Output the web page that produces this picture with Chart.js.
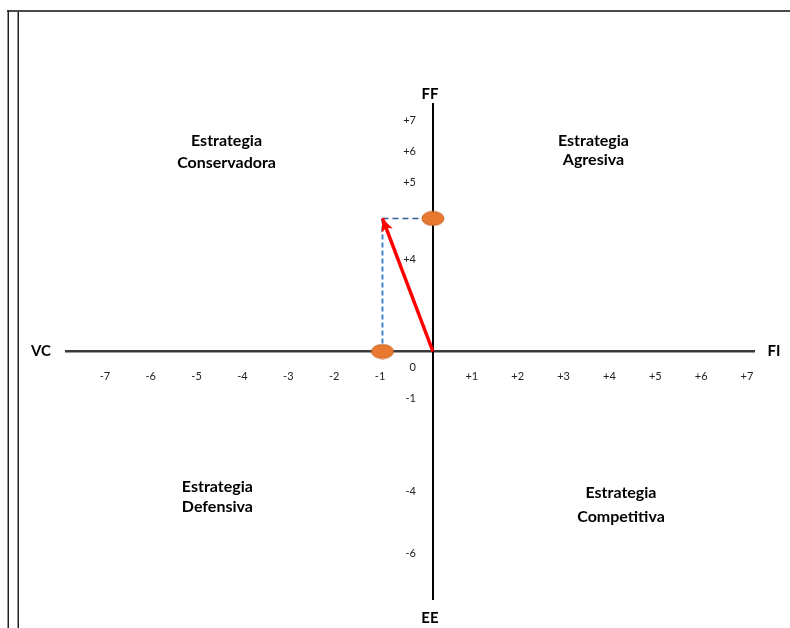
<!DOCTYPE html>
<html>
<head>
<meta charset="utf-8">
<script src="https://cdn.jsdelivr.net/npm/chart.js@4/dist/chart.umd.min.js"></script>
<style>
  html, body { margin: 0; padding: 0; background: #ffffff; }
  #wrap { width: 790px; height: 628px; position: relative; }
</style>
</head>
<body>
<div id="wrap"><canvas id="space" width="790" height="628"></canvas></div>
<script>
// Tick values shown on each axis
const xTickValues = [-7, -6, -5, -4, -3, -2, -1, 1, 2, 3, 4, 5, 6, 7];
const yTickValuesUpper = [7, 6, 5];
const yTickValuesMid = [4];
const yTickValuesLower = [0, -1, -4, -6];

// Axis end names
const axisNames = { top: 'FF', bottom: 'EE', left: 'VC', right: 'FI' };

// Quadrant strategy names
const quadrantConservadora = ['Estrategia', 'Conservadora'];
const quadrantAgresiva = ['Estrategia', 'Agresiva'];
const quadrantDefensiva = ['Estrategia', 'Defensiva'];
const quadrantCompetitiva = ['Estrategia', 'Competitiva'];

// Resulting direction vector (x: VC–FI, y: EE–FF)
const vectorX = -1.1;
const vectorY = 4.3;

const FONT = 'Lato, "Open Sans", sans-serif';
const fmtTick = v => (v > 0 ? '+' + v : String(v));

// Flat orange ellipse used as the point marker
function makeEllipse(w, h) {
  const c = document.createElement('canvas');
  c.width = w + 2; c.height = h + 2;
  const g = c.getContext('2d');
  g.beginPath();
  g.ellipse(c.width / 2, c.height / 2, w / 2, h / 2, 0, 0, Math.PI * 2);
  g.fillStyle = '#E8792F';
  g.fill();
  g.lineWidth = 1;
  g.strokeStyle = '#C4621F';
  g.stroke();
  return c;
}
const ellipseMarker = makeEllipse(22, 14);

// Outer page frame
const framePlugin = {
  id: 'frame',
  beforeDraw(chart) {
    const ctx = chart.ctx;
    ctx.save();
    ctx.strokeStyle = '#4a4a4a';
    ctx.lineWidth = 2;
    ctx.beginPath(); ctx.moveTo(7, 11); ctx.lineTo(790, 11); ctx.stroke();
    ctx.strokeStyle = '#222';
    ctx.lineWidth = 1.5;
    ctx.beginPath(); ctx.moveTo(8.25, 10); ctx.lineTo(8.25, 628); ctx.stroke();
    ctx.beginPath(); ctx.moveTo(18.25, 12); ctx.lineTo(18.25, 628); ctx.stroke();
    ctx.restore();
  }
};

// Arrow head at the end of the vector
const arrowPlugin = {
  id: 'arrowHead',
  afterDatasetsDraw(chart) {
    const xs = chart.scales.x, ys = chart.scales.y, ctx = chart.ctx;
    const x0 = xs.getPixelForValue(0), y0 = ys.getPixelForValue(0);
    const x1 = xs.getPixelForValue(vectorX), y1 = ys.getPixelForValue(vectorY);
    const a = Math.atan2(y1 - y0, x1 - x0);
    const len = 13, half = 6;
    ctx.save();
    ctx.translate(x1, y1);
    ctx.rotate(a);
    ctx.beginPath();
    ctx.moveTo(0, 0);
    ctx.lineTo(-len, -half);
    ctx.lineTo(-len + 3, 0);
    ctx.lineTo(-len, half);
    ctx.closePath();
    ctx.fillStyle = '#FF0000';
    ctx.fill();
    ctx.restore();
  }
};

// Axis names and quadrant captions
const textPlugin = {
  id: 'captions',
  afterDraw(chart) {
    const { ctx, chartArea } = chart;
    const xs = chart.scales.x, ys = chart.scales.y;
    const cx = xs.getPixelForValue(0), cy = ys.getPixelForValue(0);
    ctx.save();
    ctx.fillStyle = '#000';
    ctx.textAlign = 'center';
    ctx.textBaseline = 'middle';
    ctx.font = 'bold 15px ' + FONT;
    ctx.fillText(axisNames.top, cx - 3, chartArea.top - 10);
    ctx.fillText(axisNames.bottom, cx - 3, chartArea.bottom + 19);
    ctx.fillText(axisNames.left, chartArea.left - 25, cy);
    ctx.fillText(axisNames.right, chartArea.right + 20, cy);

    const blocks = [
      { lines: quadrantConservadora, x: -4.5, y: 6.45, gap: 22 },
      { lines: quadrantAgresiva, x: 3.5, y: 6.5, gap: 19 },
      { lines: quadrantDefensiva, x: -4.7, y: -4.7, gap: 20 },
      { lines: quadrantCompetitiva, x: 4.1, y: -4.96, gap: 24 }
    ];
    ctx.font = 'bold 16px ' + FONT;
    blocks.forEach(b => {
      const px = xs.getPixelForValue(b.x), py = ys.getPixelForValue(b.y);
      ctx.fillText(b.lines[0], px, py - b.gap / 2);
      ctx.fillText(b.lines[1], px, py + b.gap / 2);
    });
    ctx.restore();
  }
};

// Label-only vertical axes, set slightly left of the FF–EE line
function labelAxis(values, offset) {
  return {
    type: 'linear', axis: 'y', min: -8, max: 8,
    position: { x: -0.37 },
    grid: { display: false, drawTicks: false },
    border: { display: false },
    afterBuildTicks: s => { s.ticks = values.map(v => ({ value: v })); },
    ticks: {
      autoSkip: false, padding: 0, labelOffset: offset,
      color: '#222', font: { family: FONT, size: 11 },
      callback: fmtTick
    }
  };
}

new Chart(document.getElementById('space'), {
  type: 'scatter',
  data: {
    datasets: [
      {
        label: 'Puntos',
        data: [{ x: vectorX, y: 0 }, { x: 0, y: vectorY }],
        pointStyle: ellipseMarker,
        pointRadius: 8
      },
      {
        label: 'Vector',
        data: [{ x: 0, y: 0 }, { x: vectorX, y: vectorY }],
        showLine: true, borderColor: '#FF0000', borderWidth: 3.5,
        pointRadius: 0
      },
      {
        label: 'Proyección FF',
        data: [{ x: vectorX, y: vectorY }, { x: 0, y: vectorY }],
        showLine: true, borderColor: '#2F5C8F', borderWidth: 1.5,
        borderDash: [6, 4], pointRadius: 0
      },
      {
        label: 'Proyección VC',
        data: [{ x: vectorX, y: 0 }, { x: vectorX, y: vectorY }],
        showLine: true, borderColor: '#3E86C8', borderWidth: 2,
        borderDash: [5, 3], pointRadius: 0
      }
    ]
  },
  options: {
    responsive: false,
    animation: false,
    layout: { padding: { left: 66, right: 36, top: 104, bottom: 29 } },
    plugins: { legend: { display: false }, tooltip: { enabled: false } },
    scales: {
      x: {
        type: 'linear', min: -8, max: 7,
        position: { y: 0 },
        grid: { display: false, drawTicks: false },
        border: { color: '#3a3a3a', width: 2.5 },
        afterBuildTicks: s => { s.ticks = xTickValues.map(v => ({ value: v })); },
        ticks: {
          autoSkip: false, maxRotation: 0, padding: 18, labelOffset: -7,
          color: '#222', font: { family: FONT, size: 11 },
          callback: fmtTick
        }
      },
      y: {
        type: 'linear', min: -8, max: 8,
        position: { x: 0 },
        grid: { display: false, drawTicks: false },
        border: { color: '#000', width: 2 },
        ticks: { display: false }
      },
      yUpper: labelAxis(yTickValuesUpper, -14),
      yMid: labelAxis(yTickValuesMid, 32),
      yLower: labelAxis(yTickValuesLower, 16)
    }
  },
  plugins: [framePlugin, arrowPlugin, textPlugin]
});
</script>
</body>
</html>
